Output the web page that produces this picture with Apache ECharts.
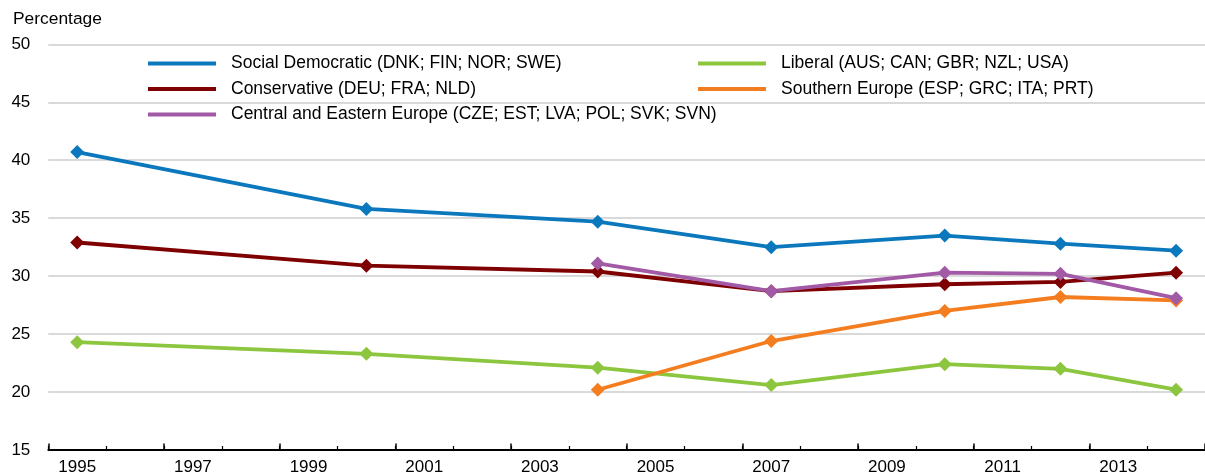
<!DOCTYPE html>
<html>
<head>
<meta charset="utf-8">
<script src="https://cdn.jsdelivr.net/npm/echarts@6/dist/echarts.min.js"></script>
<style>
  html, body { margin: 0; padding: 0; background: #fff; }
  #chart { width: 1205px; height: 476px; }
</style>
</head>
<body>
<div id="chart"></div>
<script>
// axis categories (one band per year)
var years = [];
for (var y = 1995; y <= 2014; y++) years.push(String(y));

// survey years that carry a point
var pointYears = ['1995', '2000', '2004', '2007', '2010', '2012', '2014'];

// values (percentage), null = no point
var socialDemocratic = [40.7, 35.8, 34.7, 32.5, 33.5, 32.8, 32.2];
var liberal          = [24.3, 23.3, 22.1, 20.6, 22.4, 22.0, 20.2];
var conservative     = [32.9, 30.9, 30.4, 28.7, 29.3, 29.5, 30.3];
var southernEurope   = [null, null, 20.2, 24.4, 27.0, 28.2, 27.9];
var centralEastern   = [null, null, 31.1, 28.7, 30.3, 30.2, 28.1];

var font = "'Liberation Sans', Arial, sans-serif";

function pairs(values) {
    var out = [];
    for (var i = 0; i < pointYears.length; i++) {
        if (values[i] !== null) out.push([pointYears[i], values[i]]);
    }
    return out;
}

function lineSeries(name, color, values) {
    return {
        name: name,
        type: 'line',
        xAxisIndex: 0,
        data: pairs(values),
        symbol: 'diamond',
        symbolSize: 14,
        color: color,
        lineStyle: { width: 3.8, color: color },
        itemStyle: { color: color },
        emphasis: { disabled: true },
        animation: false
    };
}

var legendText = {
    fontFamily: font,
    fontSize: 17.5,
    color: '#000',
    lineHeight: 17,
    padding: [0, 0, 0, 10]
};

var myChart = echarts.init(document.getElementById('chart'));
var option = {
    backgroundColor: '#fff',
    animation: false,
    title: {
        text: 'Percentage',
        left: 13,
        top: 11,
        padding: 0,
        textStyle: { fontFamily: font, fontSize: 17.4, fontWeight: 'normal', color: '#000' }
    },
    legend: [
        {
            left: 148,
            top: 54.5,
            padding: 0,
            orient: 'vertical',
            itemWidth: 68,
            itemHeight: 4,
            itemGap: 7.5,
            icon: 'rect',
            selectedMode: false,
            textStyle: legendText,
            data: ['Social Democratic (DNK; FIN; NOR; SWE)', 'Conservative (DEU; FRA; NLD)',
                   'Central and Eastern Europe (CZE; EST; LVA; POL; SVK; SVN)']
        },
        {
            left: 698,
            top: 54.5,
            padding: 0,
            orient: 'vertical',
            itemWidth: 68,
            itemHeight: 4,
            itemGap: 7.5,
            icon: 'rect',
            selectedMode: false,
            textStyle: legendText,
            data: ['Liberal (AUS; CAN; GBR; NZL; USA)', 'Southern Europe (ESP; GRC; ITA; PRT)']
        }
    ],
    grid: {
        left: 48.3,
        top: 44.3,
        bottom: 26,
        width: 1169
    },
    xAxis: [
        {
            type: 'category',
            position: 'bottom',
            data: years,
            boundaryGap: true,
            axisLine: { lineStyle: { color: '#000', width: 1.8 } },
            axisTick: { show: true, inside: true, interval: 0, length: 4, lineStyle: { color: '#000', width: 1.2 } },
            axisLabel: { interval: 1, margin: 9, fontFamily: font, fontSize: 17, color: '#000' },
            splitLine: { show: false }
        },
        {
            type: 'category',
            position: 'bottom',
            data: years,
            boundaryGap: true,
            axisLine: { show: false },
            axisTick: { show: true, inside: true, interval: 1, length: 6.5, lineStyle: { color: '#000', width: 1.5 } },
            axisLabel: { show: false },
            splitLine: { show: false }
        }
    ],
    yAxis: {
        type: 'value',
        min: 15,
        max: 50,
        interval: 5,
        axisLine: { show: false },
        axisTick: { show: false },
        axisLabel: { margin: 18, fontFamily: font, fontSize: 17, color: '#000' },
        splitLine: { lineStyle: { color: '#cccccc', width: 1.5 } }
    },
    series: [
        lineSeries('Social Democratic (DNK; FIN; NOR; SWE)', '#0b78be', socialDemocratic),
        lineSeries('Liberal (AUS; CAN; GBR; NZL; USA)', '#8cc63f', liberal),
        lineSeries('Conservative (DEU; FRA; NLD)', '#7f0000', conservative),
        lineSeries('Southern Europe (ESP; GRC; ITA; PRT)', '#f47d20', southernEurope),
        lineSeries('Central and Eastern Europe (CZE; EST; LVA; POL; SVK; SVN)', '#a25aa6', centralEastern)
    ]
};
myChart.setOption(option);
</script>
</body>
</html>
